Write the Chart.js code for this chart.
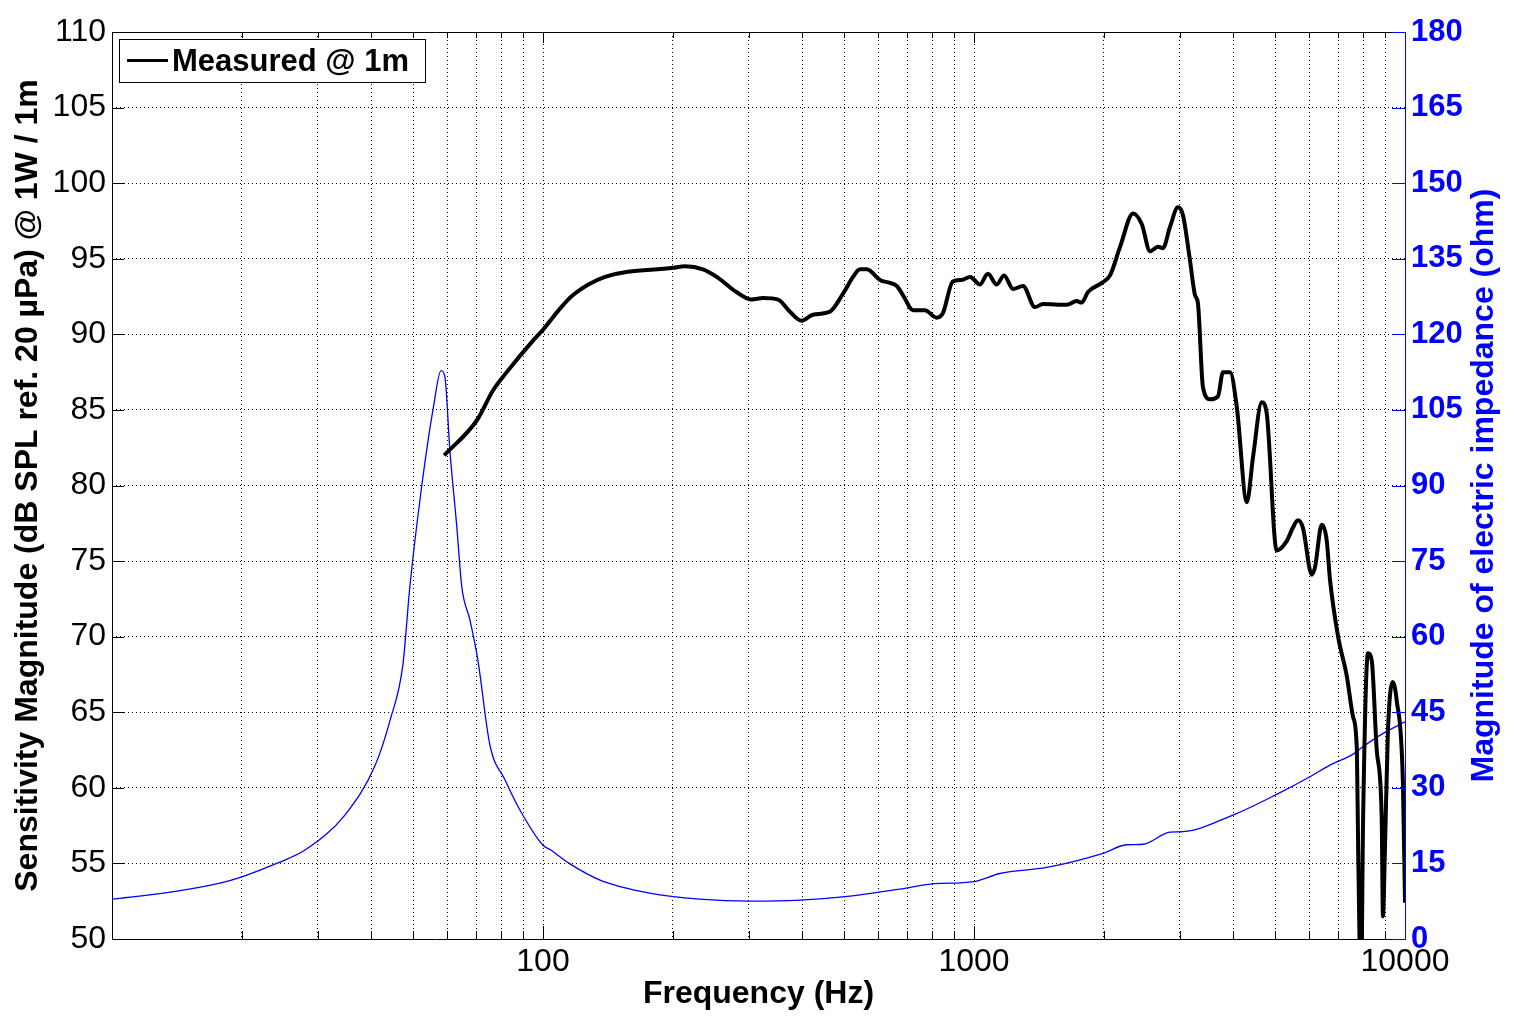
<!DOCTYPE html>
<html>
<head>
<meta charset="utf-8">
<script src="https://cdn.jsdelivr.net/npm/chart.js@4.4.1/dist/chart.umd.min.js"></script>
<style>
html, body { margin: 0; padding: 0; background: #fff; }
</style>
</head>
<body>
<canvas id="myChart" width="1514" height="1029"></canvas>
<script>
var ctx = document.getElementById('myChart').getContext('2d');

// measured SPL, frequency in Hz / level in dB
var freqSpl = [59.0, 70.2, 76.6, 82.4, 94.9, 100, 109.5, 117.4, 139.3, 200.4, 213.5, 235, 253, 281, 305, 324, 351, 374, 398, 423, 463, 497, 524, 544, 564, 605, 638, 662, 684, 722, 769, 819, 847, 893, 936, 979, 1032, 1077, 1129, 1174, 1232, 1299, 1385, 1445, 1641, 1730, 1777, 1839, 1978, 2068, 2183, 2339, 2450, 2561, 2673, 2744, 2849, 2973, 3053, 3170, 3256, 3308, 3398, 3529, 3682, 3782, 3928, 4071, 4296, 4441, 4652, 4776, 5038, 5310, 5492, 5644, 5797, 6076, 6184, 6409, 6580, 6700, 6995, 7326, 7576, 7733, 7786, 7907, 7996, 8203, 8373, 8599, 8828, 8890, 8983, 9125, 9361, 9565, 9890, 10000];
var splDb = [82.0, 84.3, 86.3, 87.5, 89.6, 90.3, 91.7, 92.6, 93.8, 94.4, 94.5, 94.3, 93.8, 92.8, 92.3, 92.4, 92.3, 91.5, 90.9, 91.3, 91.5, 92.7, 93.8, 94.3, 94.3, 93.6, 93.4, 93.2, 92.6, 91.6, 91.6, 91.1, 91.4, 93.5, 93.6, 93.8, 93.3, 94.0, 93.3, 93.9, 93.0, 93.2, 91.8, 92.0, 91.95, 92.2, 92.1, 92.8, 93.4, 93.9, 95.8, 98.0, 97.3, 95.5, 95.8, 95.7, 97.1, 98.4, 97.9, 94.9, 92.6, 92.05, 86.5, 85.7, 85.9, 87.5, 87.5, 85.2, 78.9, 81.9, 85.5, 84.8, 75.7, 76.3, 77.2, 77.7, 77.2, 74.1, 74.6, 77.4, 76.4, 73.75, 70.0, 67.4, 64.7, 62.5, 55.9, 46.6, 58.1, 68.9, 68.4, 62.5, 58.1, 51.5, 55.9, 63.6, 67.0, 65.8, 60.3, 52.4];

// impedance, frequency in Hz / magnitude in ohm
var freqZ = [10, 13.4, 17.8, 20.1, 24.1, 28.1, 34.7, 40.8, 44.2, 47.3, 49.1, 52.3, 55.7, 58.0, 59.2, 60.8, 63.1, 64.8, 67.7, 70.6, 75.3, 81.6, 88.4, 100, 104, 115, 135.6, 177, 231, 302, 395, 516, 673, 791, 1000, 1148, 1475, 1992, 2261, 2466, 2850, 3055, 3991, 5038, 6020, 6700, 7580, 8000, 8900, 10000];
var impOhm = [7.9, 9.2, 11.1, 12.4, 15.0, 17.7, 24.6, 34.5, 43.5, 54.4, 69.9, 89.8, 105.6, 112.8, 111.6, 97.0, 81.8, 69.9, 63.3, 55.4, 38.5, 31.6, 25.6, 18.6, 17.7, 15.0, 11.7, 9.1, 7.9, 7.5, 7.7, 8.5, 9.9, 10.9, 11.4, 13.0, 14.2, 17.0, 18.7, 18.8, 21.2, 21.3, 24.6, 28.7, 32.2, 34.5, 36.7, 38.2, 40.8, 43.1];

var xTickLabels = [100, 1000, 10000];
var xDecades = [10, 100, 1000];
var xMantissas = [1, 2, 3, 4, 5, 6, 7, 8, 9];
var splTickStep = 5;
var impTickStep = 15;

var blue = '#0000ff';
var fontFam = "'Liberation Sans', Arial, Helvetica, sans-serif";
var rightTitle = 'Magnitude of electric impedance (ohm)';

Chart.defaults.font.family = fontFam;

toPoints = function(xs, ys){
    var pts = [];
    for(var i = 0; i < xs.length; i++){
        pts.push({x: xs[i], y: ys[i]});
    }
    return pts;
}

// grid positions of a MATLAB log axis: 10,20..90,100,200..10000
gridValues = function(){
    var vals = [];
    for(var d = 0; d < xDecades.length; d++){
        for(var m = 0; m < xMantissas.length; m++){
            vals.push({value: xDecades[d] * xMantissas[m]});
        }
    }
    vals.push({value: xDecades[xDecades.length - 1] * 10});
    return vals;
}

// frame, inward ticks, legend box and right title (MATLAB look)
var matlabBox = {
    id: 'matlabBox',
    afterDraw: function(chart){
        var c = chart.ctx;
        var a = chart.chartArea;
        var sx = chart.scales.x, sy = chart.scales.y, sy2 = chart.scales.y2;
        c.save();
        c.lineWidth = 1;
        c.setLineDash([]);

        // x ticks, top and bottom
        c.strokeStyle = '#000';
        c.beginPath();
        sx.ticks.forEach(function(t){
            var px = Math.round(sx.getPixelForValue(t.value)) + 0.5;
            var lg = Math.log10(t.value);
            var len = Math.abs(lg - Math.round(lg)) < 1e-6 ? 13 : 8;
            c.moveTo(px, a.bottom); c.lineTo(px, a.bottom - len);
            c.moveTo(px, a.top); c.lineTo(px, a.top + len - 2);
        });
        sy.ticks.forEach(function(t){
            var py = Math.round(sy.getPixelForValue(t.value)) + 0.5;
            c.moveTo(a.left, py); c.lineTo(a.left + 12, py);
        });
        c.stroke();

        // black frame (left, top, bottom)
        c.beginPath();
        c.moveTo(a.right, a.top + 0.5); c.lineTo(a.left + 0.5, a.top + 0.5);
        c.lineTo(a.left + 0.5, a.bottom + 0.5); c.lineTo(a.right, a.bottom + 0.5);
        c.stroke();

        // blue right axis
        c.strokeStyle = blue;
        c.beginPath();
        c.moveTo(a.right + 0.5, a.top); c.lineTo(a.right + 0.5, a.bottom + 1);
        sy2.ticks.forEach(function(t){
            var py = Math.round(sy2.getPixelForValue(t.value)) + 0.5;
            c.moveTo(a.right, py); c.lineTo(a.right - 13, py);
        });
        c.stroke();

        // right title, reading bottom to top
        c.fillStyle = blue;
        c.font = 'bold 32px ' + fontFam;
        c.textAlign = 'center';
        c.textBaseline = 'middle';
        c.translate(1484, (a.top + a.bottom) / 2);
        c.rotate(-Math.PI / 2);
        c.fillText(rightTitle, 0, 0);
        c.restore();

        // legend
        var ds = chart.data.datasets[0];
        c.save();
        c.fillStyle = '#fff';
        c.fillRect(119.5, 39.5, 306, 43);
        c.strokeStyle = '#000';
        c.lineWidth = 1;
        c.strokeRect(119.5, 39.5, 306, 43);
        c.strokeStyle = ds.borderColor;
        c.lineWidth = 3;
        c.beginPath();
        c.moveTo(127, 60.5); c.lineTo(168, 60.5);
        c.stroke();
        c.fillStyle = '#000';
        c.font = 'bold 31px ' + fontFam;
        c.textAlign = 'left';
        c.textBaseline = 'alphabetic';
        c.fillText(ds.label, 172, 71);
        c.restore();
    }
};

createChart = function(){
    var myChart = new Chart(ctx, {
        type: 'line',
        data: {
            datasets: [{
                label: 'Measured @ 1m',
                data: toPoints(freqSpl, splDb),
                borderColor: '#000000',
                borderWidth: 4,
                borderJoinStyle: 'round',
                pointRadius: 0,
                cubicInterpolationMode: 'monotone',
                clip: 0,
                yAxisID: 'y'
            }, {
                label: 'Impedance',
                data: toPoints(freqZ, impOhm),
                borderColor: blue,
                borderWidth: 1.3,
                pointRadius: 0,
                cubicInterpolationMode: 'monotone',
                clip: 0,
                yAxisID: 'y2'
            }]
        },
        options: {
            responsive: false,
            animation: false,
            layout: { padding: { top: 32 } },
            plugins: {
                legend: { display: false },
                tooltip: { enabled: false }
            },
            scales: {
                x: {
                    type: 'logarithmic',
                    position: 'bottom',
                    min: 10,
                    max: 10000,
                    grid: { color: '#000', lineWidth: 1, drawTicks: false },
                    border: { display: false, dash: [1, 3] },
                    ticks: {
                        autoSkip: false,
                        maxRotation: 0,
                        color: '#000',
                        padding: 4,
                        font: { size: 32 },
                        callback: function(v){
                            for(var i = 0; i < xTickLabels.length; i++){
                                if(Math.abs(v - xTickLabels[i]) < 1e-6 * xTickLabels[i]) return String(xTickLabels[i]);
                            }
                            return '';
                        }
                    },
                    afterBuildTicks: function(s){ s.ticks = gridValues(); },
                    title: {
                        display: true,
                        text: 'Frequency (Hz)',
                        color: '#000',
                        font: { size: 32, weight: 'bold' },
                        padding: { bottom: 16 }
                    },
                    afterFit: function(s){ s.height = 90; }
                },
                y: {
                    position: 'left',
                    min: 50,
                    max: 110,
                    grid: { color: '#000', lineWidth: 1, drawTicks: false },
                    border: { display: false, dash: [1, 3] },
                    ticks: { stepSize: splTickStep, color: '#000', padding: 6, font: { size: 32 } },
                    title: {
                        display: true,
                        text: 'Sensitivity Magnitude (dB SPL ref. 20 \u00b5Pa) @ 1W / 1m',
                        color: '#000',
                        font: { size: 32, weight: 'bold' },
                        padding: { top: 9 }
                    },
                    afterFit: function(s){ s.width = 112; }
                },
                y2: {
                    position: 'right',
                    min: 0,
                    max: 180,
                    grid: { drawOnChartArea: false, drawTicks: false },
                    border: { display: false },
                    ticks: { stepSize: impTickStep, color: blue, padding: 6, font: { size: 31, weight: 'bold' } },
                    afterFit: function(s){ s.width = 109; }
                }
            }
        },
        plugins: [matlabBox]
    });
}

createChart();
</script>
</body>
</html>
